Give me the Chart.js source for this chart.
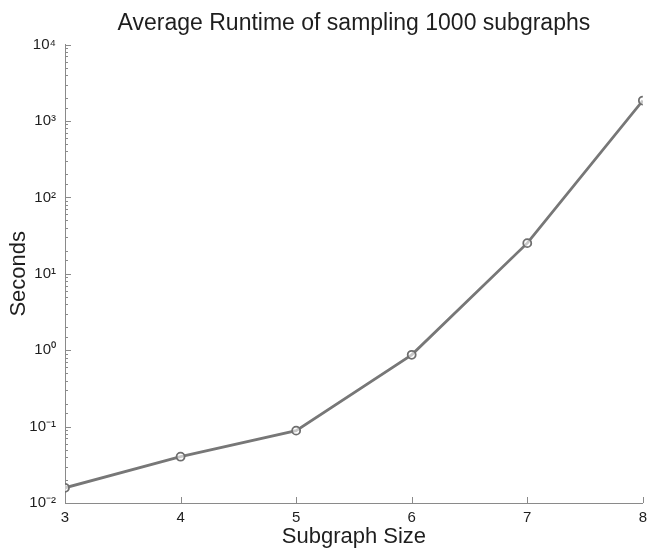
<!DOCTYPE html>
<html>
<head>
<meta charset="utf-8">
<script src="https://cdn.jsdelivr.net/npm/chart.js@4/dist/chart.umd.min.js"></script>
<style>
  html, body { margin: 0; padding: 0; background: #fff; }
  #wrap { width: 653px; height: 549px; }
</style>
</head>
<body>
<div id="wrap"><canvas id="ChartCanvas1" width="653" height="549"></canvas></div>
<script>
// values
const subgraphSize = [3, 4, 5, 6, 7, 8];
const seconds = [0.0158, 0.0404, 0.0885, 0.87, 25.2, 1850];
const yDecades = [0.01, 0.1, 1, 10, 100, 1000, 10000];

const SUP = { '-': '\u207B', '0': '\u2070', '1': '\u00B9', '2': '\u00B2', '3': '\u00B3', '4': '\u2074' };
function powerLabel(v)
{
    const e = Math.round(Math.log10(v));
    return '10' + String(e).split('').map(c => SUP[c]).join('');
}

const grey = '#777777';
const axisGrey = '#8a8a8a';

// matlab style ticks drawn inside the plot box
const insideTicks = {
    id: 'insideTicks',
    afterDatasetsDraw(chart)
    {
        const ctx = chart.ctx;
        const xs = chart.scales.x, ys = chart.scales.y;
        ctx.save();
        ctx.strokeStyle = axisGrey;
        ctx.lineWidth = 1;
        ctx.beginPath();
        xs.ticks.forEach(t => {
            const px = Math.round(xs.getPixelForValue(t.value)) + 0.5;
            ctx.moveTo(px, ys.bottom);
            ctx.lineTo(px, ys.bottom - 6);
        });
        ys.ticks.forEach(t => {
            const py = Math.round(ys.getPixelForValue(t.value)) + 0.5;
            const l = Math.log10(t.value);
            const len = Math.abs(l - Math.round(l)) < 1e-6 ? 6 : 3;
            ctx.moveTo(xs.left, py);
            ctx.lineTo(xs.left + len, py);
        });
        ctx.stroke();
        ctx.restore();
    }
};

Chart.defaults.font.family = '"Liberation Sans", Arial, sans-serif';
Chart.defaults.color = '#1e1e1e';

new Chart(document.getElementById('ChartCanvas1').getContext('2d'),
{
    type: 'line',
    data: {
        datasets: [{
            data: subgraphSize.map((x, i) => ({ x: x, y: seconds[i] })),
            borderColor: grey,
            borderWidth: 2.8,
            pointRadius: 4,
            pointBorderWidth: 1.8,
            pointBorderColor: '#6e6e6e',
            pointBackgroundColor: 'rgba(255,255,255,0.6)',
            tension: 0
        }]
    },
    options: {
        responsive: false,
        animation: false,
        layout: { padding: { left: 0, right: 6, top: 0, bottom: 0 } },
        plugins: {
            legend: { display: false },
            tooltip: { enabled: false },
            title: {
                display: true,
                text: 'Average Runtime of sampling 1000 subgraphs',
                fullSize: false,
                font: { size: 23, weight: 'normal' },
                padding: { top: 10, bottom: 7 }
            }
        },
        scales: {
            x: {
                type: 'linear',
                min: 3,
                max: 8,
                grid: { display: true, drawOnChartArea: false, drawTicks: false },
                border: { color: axisGrey, width: 1 },
                ticks: { stepSize: 1, padding: 6, font: { size: 15 }, maxRotation: 0 },
                title: { display: true, text: 'Subgraph Size', font: { size: 22, lineHeight: 1.0 }, padding: { top: 0, bottom: 1 } },
                afterFit: s => { s.height = 46; }
            },
            y: {
                type: 'logarithmic',
                min: 0.01,
                max: 10000,
                grid: { display: true, drawOnChartArea: false, drawTicks: false },
                border: { color: axisGrey, width: 1 },
                ticks: {
                    autoSkip: false,
                    padding: 9,
                    font: { size: 15 },
                    callback: v => {
                        const l = Math.log10(v);
                        return yDecades.includes(v) || Math.abs(l - Math.round(l)) < 1e-9 ? powerLabel(v) : '';
                    }
                },
                title: { display: true, text: 'Seconds', font: { size: 22, lineHeight: 1.0 }, padding: { top: 8, bottom: 0 } },
                afterFit: s => { s.width = 65; }
            }
        }
    },
    plugins: [insideTicks]
});
</script>
</body>
</html>
